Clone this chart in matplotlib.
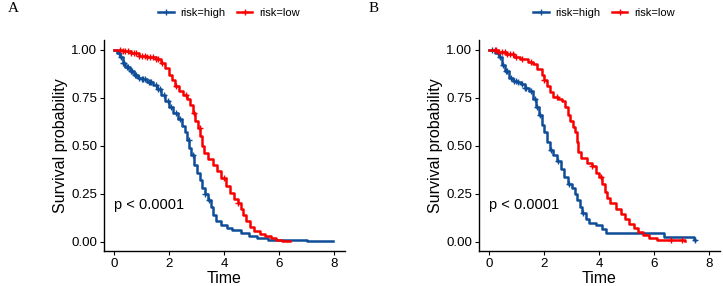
import numpy as np
import matplotlib.pyplot as plt

plt.rcParams['font.family'] = ['Liberation Sans', 'DejaVu Sans']

# --- data (Kaplan-Meier knots: time, survival) ---
a_high_t = [0, 0.1, 0.2, 0.3, 0.4, 0.55, 0.7, 0.85, 1.0, 1.2, 1.4, 1.55, 1.7, 1.85, 2.0, 2.15,
            2.3, 2.45, 2.58, 2.65, 2.72, 2.8, 2.9, 3.0, 3.1, 3.2, 3.3, 3.42, 3.5, 3.58, 3.7,
            3.9, 4.1, 4.3, 4.6, 4.9, 5.2, 5.6, 6.2, 7.0, 7.97]
a_high_s = [1.0, 0.98, 0.96, 0.93, 0.91, 0.89, 0.87, 0.855, 0.845, 0.83, 0.815, 0.795, 0.765,
            0.735, 0.70, 0.67, 0.64, 0.605, 0.57, 0.53, 0.49, 0.45, 0.40, 0.36, 0.32, 0.28,
            0.25, 0.22, 0.18, 0.14, 0.11, 0.09, 0.075, 0.06, 0.045, 0.03, 0.02, 0.012, 0.01,
            0.005, 0.005]
a_high_cens = [0.15, 0.25, 0.3, 0.35, 0.45, 0.5, 0.6, 0.65, 0.75, 0.8, 0.9, 1.0, 1.05, 1.1,
               1.25, 1.3, 1.35, 1.5, 1.6, 1.65, 1.8, 1.95, 2.05, 2.25, 2.4, 2.7, 2.85, 3.3,
               3.45]

a_low_t = [0, 0.3, 0.6, 0.9, 1.2, 1.5, 1.7, 1.85, 2.0, 2.1, 2.2, 2.35, 2.5, 2.65, 2.75, 2.85,
           2.95, 3.05, 3.12, 3.18, 3.25, 3.4, 3.6, 3.75, 3.9, 4.05, 4.2, 4.35, 4.5, 4.6, 4.7,
           4.8, 4.95, 5.1, 5.3, 5.5, 5.7, 5.9, 6.1, 6.4]
a_low_s = [1.0, 0.995, 0.98, 0.965, 0.96, 0.95, 0.93, 0.905, 0.87, 0.84, 0.81, 0.785, 0.765,
           0.745, 0.71, 0.67, 0.63, 0.59, 0.55, 0.50, 0.465, 0.43, 0.40, 0.37, 0.33, 0.29,
           0.255, 0.225, 0.20, 0.17, 0.14, 0.11, 0.08, 0.055, 0.04, 0.03, 0.02, 0.012, 0.006,
           0.003]
a_low_cens = [0.2, 0.3, 0.4, 0.5, 0.6, 0.7, 0.8, 0.9, 1.0, 1.1, 1.2, 1.3, 1.4, 1.5, 1.6, 1.75,
              2.25, 2.6, 2.9, 3.1, 4.0, 4.5]

b_high_t = [0, 0.2, 0.35, 0.45, 0.55, 0.7, 0.85, 1.0, 1.15, 1.3, 1.45, 1.6, 1.7, 1.8, 1.9,
            2.0, 2.1, 2.2, 2.3, 2.45, 2.6, 2.7, 2.85, 3.0, 3.1, 3.2, 3.3, 3.38, 3.5, 3.62, 3.9,
            4.1, 4.25, 6.36, 7.45, 7.5]
b_high_s = [1.0, 0.985, 0.96, 0.92, 0.89, 0.855, 0.835, 0.83, 0.82, 0.80, 0.785, 0.745, 0.70,
            0.66, 0.61, 0.57, 0.52, 0.48, 0.45, 0.42, 0.38, 0.34, 0.30, 0.28, 0.25, 0.22, 0.18,
            0.15, 0.12, 0.10, 0.09, 0.065, 0.047, 0.025, 0.012, 0.012]
b_high_cens = [0.1, 0.3, 0.4, 0.5, 0.6, 0.65, 0.8, 0.9, 0.95, 1.05, 1.2, 1.3, 1.35, 1.5, 1.65,
               1.75, 1.85, 2.25, 2.5, 2.9, 3.4, 7.5]

b_low_t = [0, 0.3, 0.6, 0.9, 1.1, 1.4, 1.6, 1.75, 1.9, 2.0, 2.1, 2.2, 2.3, 2.5, 2.65, 2.75,
           2.85, 2.95, 3.05, 3.12, 3.18, 3.22, 3.35, 3.55, 3.75, 3.9, 4.0, 4.1, 4.2, 4.3, 4.4,
           4.6, 4.8, 4.95, 5.1, 5.25, 5.4, 5.6, 5.8, 6.1, 6.6, 7.13]
b_low_s = [1.0, 0.99, 0.975, 0.96, 0.95, 0.935, 0.925, 0.90, 0.87, 0.84, 0.81, 0.78, 0.755,
           0.745, 0.735, 0.70, 0.66, 0.63, 0.60, 0.57, 0.52, 0.47, 0.435, 0.41, 0.395, 0.36,
           0.34, 0.30, 0.26, 0.23, 0.20, 0.17, 0.145, 0.12, 0.095, 0.07, 0.05, 0.035, 0.02,
           0.012, 0.008, 0.003]
b_low_cens = [0.2, 0.25, 0.35, 0.45, 0.55, 0.65, 0.75, 0.85, 0.95, 1.2, 1.5, 2.0, 2.45, 3.75,
              4.05, 6.6, 7.0]

groups = ['risk=high', 'risk=low']
colors = ['#0F4D98', '#F80000']
panel_labels = ['A', 'B']
pval_text = 'p < 0.0001'
x_ticks = [0, 2, 4, 6, 8]
y_ticks = [0.0, 0.25, 0.5, 0.75, 1.0]


def surv_at(t, s, x):
    idx = np.searchsorted(t, x, side='right') - 1
    return np.asarray(s)[idx]


def km_panel(ax, curves):
    for (t, s, cens), col in zip(curves, colors):
        ax.step(t, s, where='post', color=col, lw=1.8)
        ax.plot(cens, surv_at(t, s, cens), ls='none', marker='+', ms=4.5,
                mew=1.0, color=col)
    ax.set_xlim(-0.38, 8.4)
    ax.set_ylim(-0.047, 1.05)
    ax.set_xticks(x_ticks)
    ax.set_yticks(y_ticks)
    ax.set_yticklabels(['%.2f' % v for v in y_ticks])
    for side in ['top', 'right']:
        ax.spines[side].set_visible(False)
    for side in ['left', 'bottom']:
        ax.spines[side].set_linewidth(1.0)
    ax.tick_params(labelsize=9.6, length=3, width=0.8, colors='black', pad=2)
    ax.set_xlabel('Time', fontsize=11.5, labelpad=1)
    ax.set_ylabel('Survival probability', fontsize=11.5, labelpad=2)
    ax.text(0, 0.19, pval_text, fontsize=10.5, va='center', ha='left')


fig = plt.figure(figsize=(7.23, 2.86), dpi=100)
ax_a = fig.add_axes([104 / 723, 35 / 286, 241 / 723, 211 / 286])
ax_b = fig.add_axes([479 / 723, 35 / 286, 241 / 723, 211 / 286])

km_panel(ax_a, [(a_high_t, a_high_s, a_high_cens), (a_low_t, a_low_s, a_low_cens)])
km_panel(ax_b, [(b_high_t, b_high_s, b_high_cens), (b_low_t, b_low_s, b_low_cens)])

# legends on top, one per panel
for ax, cx in [(ax_a, 229 / 723), (ax_b, 604 / 723)]:
    handles = [plt.Line2D([], [], color=c, lw=1.8, marker='+', ms=5, mew=1.0)
               for c in colors]
    fig.legend(handles, groups, loc='center', bbox_to_anchor=(cx, 1 - 13 / 286),
               ncol=2, frameon=False, fontsize=8, handlelength=1.4,
               handletextpad=0.6, columnspacing=1.0)

fig.text(8 / 723, 1 - 9 / 286, panel_labels[0], family='Liberation Serif', fontsize=11,
         va='center', ha='left')
fig.text(369 / 723, 1 - 9 / 286, panel_labels[1], family='Liberation Serif', fontsize=11,
         va='center', ha='left')

fig.savefig('out.png', dpi=100)
